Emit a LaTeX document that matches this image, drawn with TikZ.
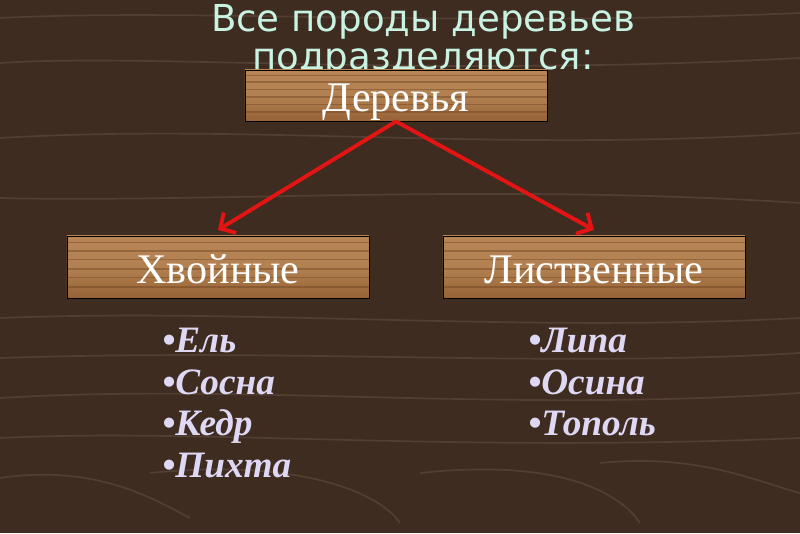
\documentclass[tikz,border=0pt]{standalone}
\usepackage{fontspec}
\setmainfont{Liberation Serif}
\newfontfamily\titlefont{DejaVu Sans}
\usetikzlibrary{arrows.meta,calc}
\definecolor{woodbg}{RGB}{62,44,32}
\definecolor{grain}{RGB}{120,100,86}
\definecolor{woodbox}{RGB}{150,98,54}
\definecolor{woodlight}{RGB}{184,134,86}
\definecolor{woodstreak}{RGB}{110,68,34}
\definecolor{titlecol}{RGB}{200,242,226}
\definecolor{itemcol}{RGB}{222,216,245}
\definecolor{arrowred}{RGB}{226,20,20}

\tikzset{
  plank/.style={draw=black, line width=0.6pt, top color=woodlight, bottom color=woodbox, middle color=woodlight!85!woodbox, minimum width=7.55cm, inner sep=0pt,
    path picture={
      \foreach \f/\w in {0.18/1.0,0.33/0.6,0.47/1.4,0.62/0.7,0.76/1.1,0.9/0.8}{
        \draw[woodstreak, line width=\w pt, opacity=0.45]
          ($(path picture bounding box.south west)!\f!(path picture bounding box.north west)$) --
          ($(path picture bounding box.south east)!\f!(path picture bounding box.north east)$);
      }
    }},
  planktext/.style={anchor=base, inner sep=0pt, text=white, font=\fontsize{30}{30}\selectfont},
  redarrow/.style={draw=arrowred, line width=2.8pt, -{Straight Barb[length=8pt,width=17pt,line width=2.8pt]}},
  item/.style={anchor=base west, inner sep=0pt, text=itemcol, font=\fontsize{26.5}{27}\selectfont\bfseries\itshape},
  titleline/.style={anchor=base, inner sep=0pt, text=titlecol, font=\titlefont\fontsize{26.4}{27}\selectfont},
}

\begin{document}
\begin{tikzpicture}[x=0.025cm,y=0.025cm]
    \fill[woodbg] (0,0) rectangle (800,533);
    \useasboundingbox (0,0) rectangle (800,533);
    % wood grain
    \begin{scope}[draw=grain, opacity=0.35, line width=1.2pt]
        \draw (0,515) .. controls (200,525) and (450,505) .. (800,520);
        \draw (0,470) .. controls (150,480) and (420,455) .. (800,475);
        \draw (0,395) .. controls (250,410) and (500,380) .. (800,400);
        \draw (0,335) .. controls (200,330) and (500,350) .. (800,330);
        \draw (0,215) .. controls (250,225) and (520,200) .. (800,215);
        \draw (0,175) .. controls (300,185) and (550,165) .. (800,180);
        \draw (0,135) .. controls (250,150) and (500,120) .. (800,140);
        \draw (0,95) .. controls (200,105) and (450,80) .. (800,95);
        \draw (0,55) .. controls (100,70) and (160,30) .. (190,15);
        \draw (150,60) .. controls (300,75) and (380,40) .. (400,10);
        \draw (420,60) .. controls (560,75) and (620,40) .. (640,10);
        \draw (600,70) .. controls (700,80) and (760,50) .. (800,40);
    \end{scope}

    \node[titleline] (title1) at (423,501) {Все породы деревьев};
    \node[titleline] (title2) at (423,463) {подразделяются:};

    \node[plank, minimum height=1.275cm] (trees) at (396,437.5) {};
    \node[planktext] (treestext) at (396,421) {Деревья};

    \node[plank, minimum height=1.55cm] (conif) at (218,266) {};
    \node[planktext] (coniftext) at (218,249) {Хвойные};

    \node[plank, minimum height=1.55cm] (decid) at (594,266) {};
    \node[planktext] (decidtext) at (594,249) {Лиственные};

    \draw[redarrow] (trees.south) -- ([yshift=4]conif.north);
    \draw[redarrow] (trees.south) -- ([yshift=4]decid.north);

    \node[item] (fir) at (162,181) {•Ель};
    \node[item] (pine) at (162,139) {•Сосна};
    \node[item] (cedar) at (162,98) {•Кедр};
    \node[item] (abies) at (162,56) {•Пихта};

    \node[item] (linden) at (528,181) {•Липа};
    \node[item] (aspen) at (528,139) {•Осина};
    \node[item] (poplar) at (528,98) {•Тополь};
\end{tikzpicture}
\end{document}
